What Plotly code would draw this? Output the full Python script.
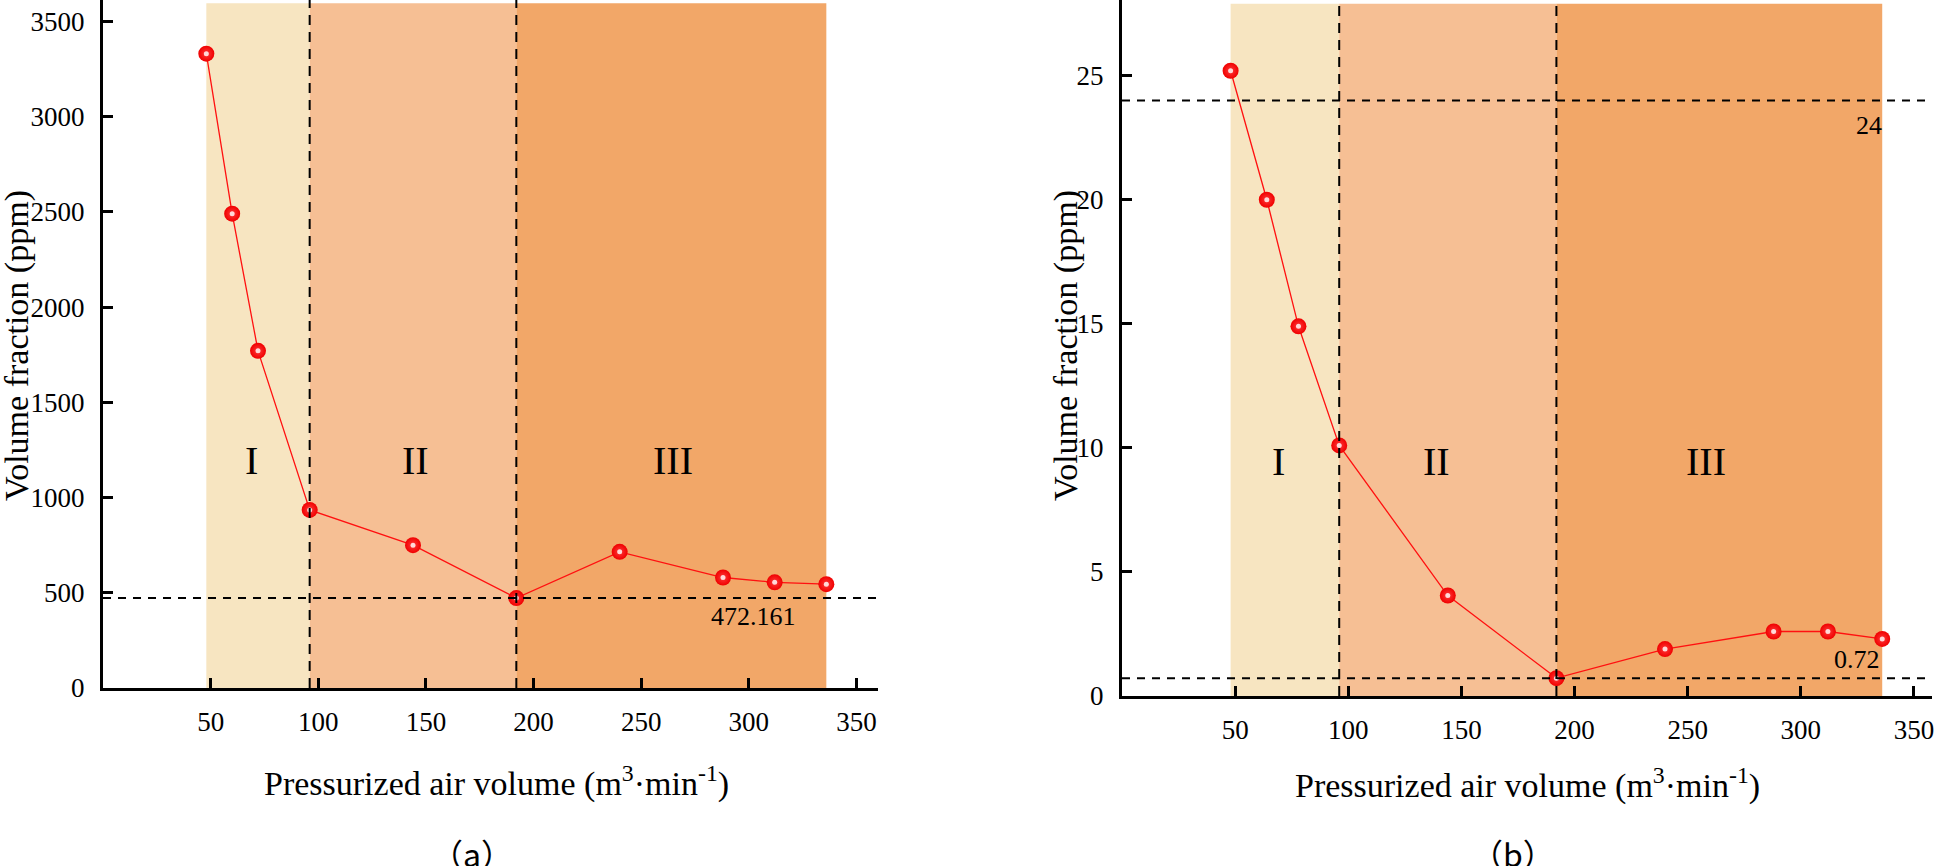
import plotly.graph_objects as go

# ---------------- data ----------------
air_a = [48, 60, 72, 96, 144, 192, 240, 288, 312, 336]
frac_a = [3330, 2490, 1770, 935, 750, 472.161, 715, 580, 555, 545]

air_b = [48, 64, 78, 96, 144, 192, 240, 288, 312, 336]
frac_b = [25.2, 20.0, 14.9, 10.1, 4.05, 0.72, 1.89, 2.6, 2.6, 2.3]

region_bounds = [48, 96, 192, 336]
region_names = ["I", "II", "III"]
region_colors = ["#F7E5C1", "#F6BF94", "#F2A768"]
region_label_x_a = [69, 145, 265]
region_label_x_b = [69, 139, 258]
region_label_y_a = 1195
region_label_y_b = 9.46

ref_a = 472.161
ref_b_top = 24
ref_b_bottom = 0.72

xticks = [50, 100, 150, 200, 250, 300, 350]
yticks_a = [0, 500, 1000, 1500, 2000, 2500, 3000, 3500]
yticks_b = [0, 5, 10, 15, 20, 25]

xrange_a = [0, 360]
yrange_a = [0, 3612]
shade_top_a = 3595
xrange_b = [0, 358]
yrange_b = [0, 28.05]
shade_top_b = 27.9

FONT = "Liberation Serif"
W, H = 1939, 866

fig = go.Figure()

marker = dict(size=16, color="#F00000",
              gradient=dict(type="radial", color="#FF3A3A"),
              line=dict(width=0))
highlight = dict(size=5, color="rgba(255,235,235,0.9)", line=dict(width=0))

for xs, ys, xa, ya in [(air_a, frac_a, "x", "y"), (air_b, frac_b, "x2", "y2")]:
    fig.add_trace(go.Scatter(x=xs, y=ys, mode="lines+markers",
                             line=dict(color="#FF1010", width=1.3),
                             marker=marker, xaxis=xa, yaxis=ya,
                             showlegend=False, cliponaxis=False))
    fig.add_trace(go.Scatter(x=xs, y=ys, mode="markers",
                             marker=highlight, xaxis=xa, yaxis=ya,
                             showlegend=False, cliponaxis=False,
                             hoverinfo="skip"))

shapes = []
annotations = []

def panel(xr, yr, top, refs, xax, yax, lab_x, lab_y):
    for i in range(3):
        shapes.append(dict(type="rect", xref=xax, yref=yax,
                           x0=region_bounds[i], x1=region_bounds[i + 1],
                           y0=0, y1=top, fillcolor=region_colors[i],
                           line=dict(width=0), layer="below"))
        annotations.append(dict(x=lab_x[i], y=lab_y, xref=xax, yref=yax,
                                xanchor="center", yanchor="middle",
                                text=region_names[i], showarrow=False,
                                font=dict(family=FONT, size=40, color="black")))
    for xb in region_bounds[1:3]:
        shapes.append(dict(type="line", xref=xax, yref=yax,
                           x0=xb, x1=xb, y0=0, y1=yr[1],
                           line=dict(color="black", width=2, dash="10px,7px")))
    for r in refs:
        shapes.append(dict(type="line", xref=xax, yref=yax,
                           x0=xr[0], x1=xr[1], y0=r, y1=r,
                           line=dict(color="black", width=2, dash="8px,7px")))

panel(xrange_a, yrange_a, shade_top_a, [ref_a], "x", "y",
      region_label_x_a, region_label_y_a)
panel(xrange_b, yrange_b, shade_top_b, [ref_b_top, ref_b_bottom], "x2", "y2",
      region_label_x_b, region_label_y_b)

def ann(**kw):
    kw.setdefault("xanchor", "center")
    kw.setdefault("yanchor", "middle")
    kw.setdefault("showarrow", False)
    annotations.append(kw)

# value labels
ann(x=302, y=373, xref="x", yref="y", text=f"{ref_a}",
    font=dict(family=FONT, size=26, color="black"))
ann(x=330, y=23.0, xref="x2", yref="y2", text=f"{ref_b_top}",
    font=dict(family=FONT, size=26, color="black"))
ann(x=325, y=1.49, xref="x2", yref="y2", text=f"{ref_b_bottom}",
    font=dict(family=FONT, size=26, color="black"))

# axis titles
ytitle = "Volume fraction (ppm)"
xtitle = "Pressurized air volume (m<sup>3</sup>·min<sup>-1</sup>)"
ann(x=17 / W, y=1 - 346 / H, xref="paper", yref="paper",
    text=ytitle, textangle=-90, font=dict(family=FONT, size=34, color="black"))
ann(x=1066 / W, y=1 - 346 / H, xref="paper", yref="paper",
    text=ytitle, textangle=-90, font=dict(family=FONT, size=34, color="black"))
ann(x=496 / W, y=1 - 781 / H, xref="paper", yref="paper",
    text=xtitle, font=dict(family=FONT, size=34, color="black"))
ann(x=1527 / W, y=1 - 783 / H, xref="paper", yref="paper",
    text=xtitle, font=dict(family=FONT, size=34, color="black"))
ann(x=472 / W, y=1 - 828 / H, xref="paper", yref="paper",
    text="（a）", yanchor="top",
    font=dict(family="Noto Sans CJK SC", size=32, color="black"))
ann(x=1513 / W, y=1 - 828 / H, xref="paper", yref="paper",
    text="（b）", yanchor="top",
    font=dict(family="Noto Sans CJK SC", size=32, color="black"))

axis_common = dict(showline=True, linecolor="black", linewidth=3,
                   ticks="inside", ticklen=10, tickwidth=3, tickcolor="black",
                   showgrid=False, zeroline=False, automargin=False,
                   tickfont=dict(family=FONT, size=27, color="black"))

fig.update_layout(
    width=W, height=H,
    margin=dict(l=0, r=0, t=0, b=0, pad=0),
    paper_bgcolor="white", plot_bgcolor="rgba(0,0,0,0)",
    showlegend=False,
    xaxis=dict(domain=[103 / W, 878 / W], range=xrange_a, tickvals=xticks,
               anchor="y", ticklabelstandoff=8, **axis_common),
    yaxis=dict(domain=[1 - 688 / H, 1], range=yrange_a, tickvals=yticks_a,
               anchor="x", ticklabelstandoff=10, **axis_common),
    xaxis2=dict(domain=[1122 / W, 1932 / W], range=xrange_b, tickvals=xticks,
                anchor="y2", ticklabelstandoff=8, **axis_common),
    yaxis2=dict(domain=[1 - 696 / H, 1], range=yrange_b, tickvals=yticks_b,
                anchor="x2", ticklabelstandoff=10, **axis_common),
    shapes=shapes,
    annotations=annotations,
)

fig.write_html(
    "out.html",
    config=dict(displayModeBar=False),
    post_script="document.body.style.margin='0';document.body.style.overflow='hidden';",
)
